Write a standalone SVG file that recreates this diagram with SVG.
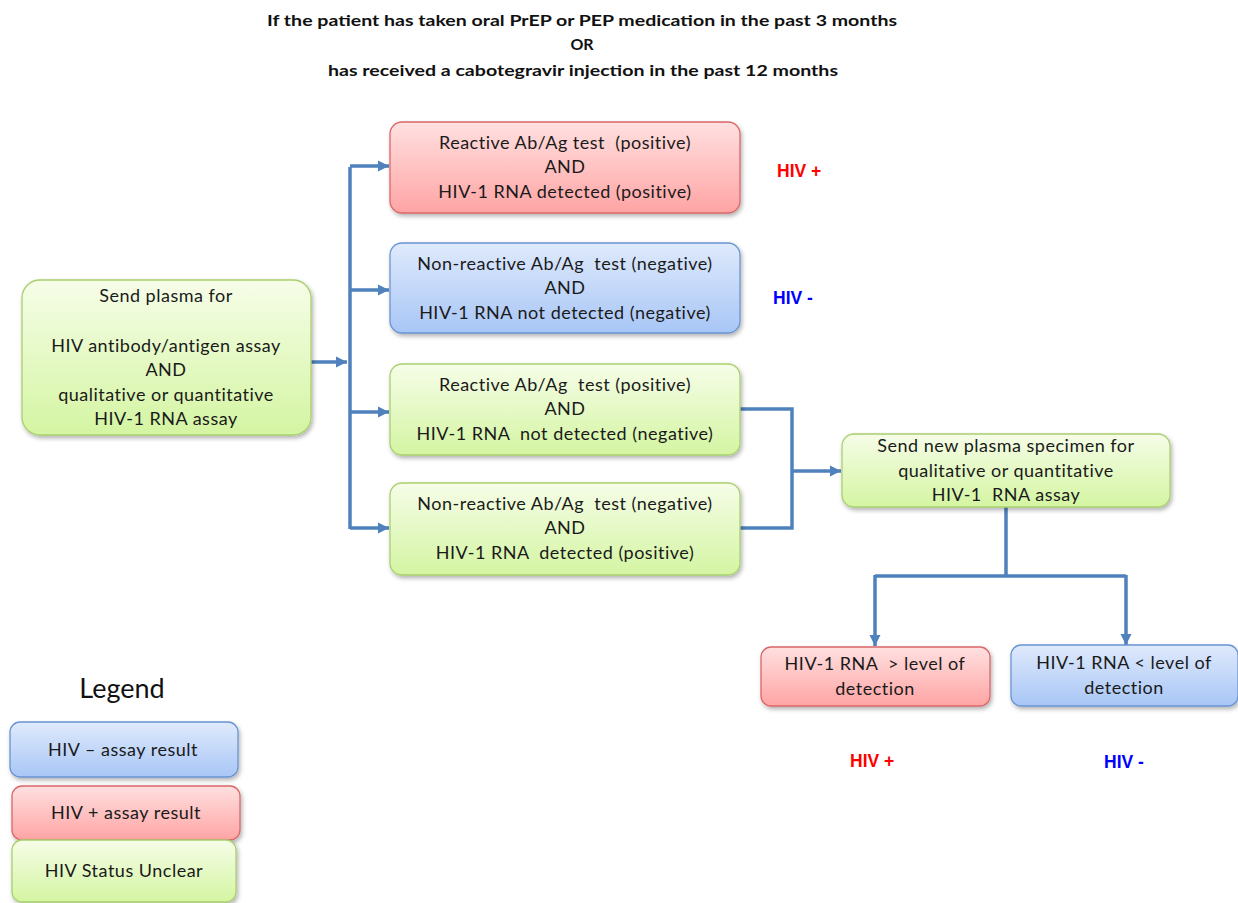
<svg xmlns="http://www.w3.org/2000/svg" width="1238" height="903" viewBox="0 0 1238 903" xml:space="preserve">
<defs>
<linearGradient id="gRed" x1="0" y1="0" x2="0" y2="1"><stop offset="0" stop-color="#ffe0e0"/><stop offset="1" stop-color="#ffa4a4"/></linearGradient>
<linearGradient id="gBlue" x1="0" y1="0" x2="0" y2="1"><stop offset="0" stop-color="#dfeafc"/><stop offset="1" stop-color="#a8c6f6"/></linearGradient>
<linearGradient id="gGreen" x1="0" y1="0" x2="0" y2="1"><stop offset="0" stop-color="#f6fde8"/><stop offset="1" stop-color="#d4f5a2"/></linearGradient>
<filter id="sh" x="-10%" y="-10%" width="120%" height="130%"><feDropShadow dx="1.5" dy="2.5" stdDeviation="2" flood-color="#000" flood-opacity="0.3"/></filter>
<marker id="arr" markerUnits="userSpaceOnUse" markerWidth="13" markerHeight="13" refX="11" refY="6.5" orient="auto"><path d="M0,1 L11,6.5 L0,12 Z" fill="#4f81bd"/></marker>
<style>
.red{fill:url(#gRed);stroke:#d9676a;stroke-width:1.3;filter:url(#sh)}
.blue{fill:url(#gBlue);stroke:#6a94d2;stroke-width:1.3;filter:url(#sh)}
.green{fill:url(#gGreen);stroke:#a9d06e;stroke-width:1.3;filter:url(#sh)}
.t{font-family:Lato,"Liberation Sans",sans-serif;font-size:18px;letter-spacing:0.5px;fill:#1a1a1a;text-anchor:middle;white-space:pre}
.title{font-family:Lato,"Liberation Sans",sans-serif;font-size:16px;font-weight:bold;fill:#111;text-anchor:middle}
.hp{font-family:"Liberation Sans",Arial,sans-serif;font-size:17.5px;font-weight:bold;fill:#ff0000}
.hn{font-family:"Liberation Sans",Arial,sans-serif;font-size:17.5px;font-weight:bold;fill:#0000ff}
.c{fill:none;stroke:#4f81bd;stroke-width:3.5}
</style>
</defs>
<rect width="1238" height="903" fill="#fff"/>
<g id="title">
<text class="title" x="582" y="26" textLength="630" lengthAdjust="spacingAndGlyphs">If the patient has taken oral PrEP or PEP medication in the past 3 months</text>
<text class="title" x="582" y="50">OR</text>
<text class="title" x="583" y="76" textLength="510" lengthAdjust="spacingAndGlyphs">has received a cabotegravir injection in the past 12 months</text>
</g>
<g id="connectors">
<path class="c" d="M311,362 H347" marker-end="url(#arr)"/>
<path class="c" d="M350,167 V529"/>
<path class="c" d="M350,166 H389" marker-end="url(#arr)"/>
<path class="c" d="M350,290 H389" marker-end="url(#arr)"/>
<path class="c" d="M350,412 H389" marker-end="url(#arr)"/>
<path class="c" d="M350,528 H389" marker-end="url(#arr)"/>
<path class="c" d="M740,409 H792 V528 H740"/>
<path class="c" d="M792,471 H841" marker-end="url(#arr)"/>
<path class="c" d="M1006,507 V576"/>
<path class="c" d="M875,576 H1126"/>
<path class="c" d="M875,575 V646" marker-end="url(#arr)"/>
<path class="c" d="M1126,575 V645" marker-end="url(#arr)"/>
</g>
<g id="n-start">
<rect class="green" x="22" y="280" width="289" height="155" rx="18"/>
<text class="t" x="166" y="302">Send plasma for</text>
<text class="t" x="166" y="352">HIV antibody/antigen assay</text>
<text class="t" x="166" y="376">AND</text>
<text class="t" x="166" y="401">qualitative or quantitative</text>
<text class="t" x="166" y="425">HIV-1 RNA assay</text>
</g>
<g id="n-pos">
<rect class="red" x="390" y="122" width="350" height="91" rx="12"/>
<text class="t" x="565" y="149">Reactive Ab/Ag test  (positive)</text>
<text class="t" x="565" y="173">AND</text>
<text class="t" x="565" y="198">HIV-1 RNA detected (positive)</text>
</g>
<g id="n-neg">
<rect class="blue" x="390" y="243" width="350" height="90" rx="12"/>
<text class="t" x="565" y="270">Non-reactive Ab/Ag  test (negative)</text>
<text class="t" x="565" y="294">AND</text>
<text class="t" x="565" y="319">HIV-1 RNA not detected (negative)</text>
</g>
<g id="n-unclear1">
<rect class="green" x="390" y="364" width="350" height="91" rx="12"/>
<text class="t" x="565" y="391">Reactive Ab/Ag  test (positive)</text>
<text class="t" x="565" y="415">AND</text>
<text class="t" x="565" y="440">HIV-1 RNA  not detected (negative)</text>
</g>
<g id="n-unclear2">
<rect class="green" x="390" y="483" width="350" height="92" rx="12"/>
<text class="t" x="565" y="510">Non-reactive Ab/Ag  test (negative)</text>
<text class="t" x="565" y="534">AND</text>
<text class="t" x="565" y="559">HIV-1 RNA  detected (positive)</text>
</g>
<g id="n-resend">
<rect class="green" x="842" y="434" width="328" height="73" rx="12"/>
<text class="t" x="1006" y="452">Send new plasma specimen for</text>
<text class="t" x="1006" y="477">qualitative or quantitative</text>
<text class="t" x="1006" y="501">HIV-1  RNA assay</text>
</g>
<g id="n-above">
<rect class="red" x="761" y="647" width="229" height="59" rx="10"/>
<text class="t" x="875" y="670">HIV-1 RNA  &gt; level of</text>
<text class="t" x="875" y="695">detection</text>
</g>
<g id="n-below">
<rect class="blue" x="1011" y="645" width="227" height="61" rx="10"/>
<text class="t" x="1124" y="669">HIV-1 RNA &lt; level of</text>
<text class="t" x="1124" y="694">detection</text>
</g>
<g id="labels">
<text class="hp" x="777" y="177">HIV +</text>
<text class="hn" x="773" y="304">HIV -</text>
<text class="hp" x="850" y="767">HIV +</text>
<text class="hn" x="1104" y="768">HIV -</text>
</g>
<g id="legend">
<text x="122" y="698" style="font-family:Lato,'Liberation Sans',sans-serif;font-size:27px;fill:#111;text-anchor:middle">Legend</text>
<rect class="blue" x="10" y="722" width="228" height="55" rx="10"/>
<text class="t" x="123" y="756">HIV – assay result</text>
<rect class="red" x="12" y="786" width="228" height="54" rx="10"/>
<text class="t" x="126" y="819">HIV + assay result</text>
<rect class="green" x="12" y="840" width="224" height="62" rx="10"/>
<text class="t" x="124" y="877">HIV Status Unclear</text>
</g>
</svg>
